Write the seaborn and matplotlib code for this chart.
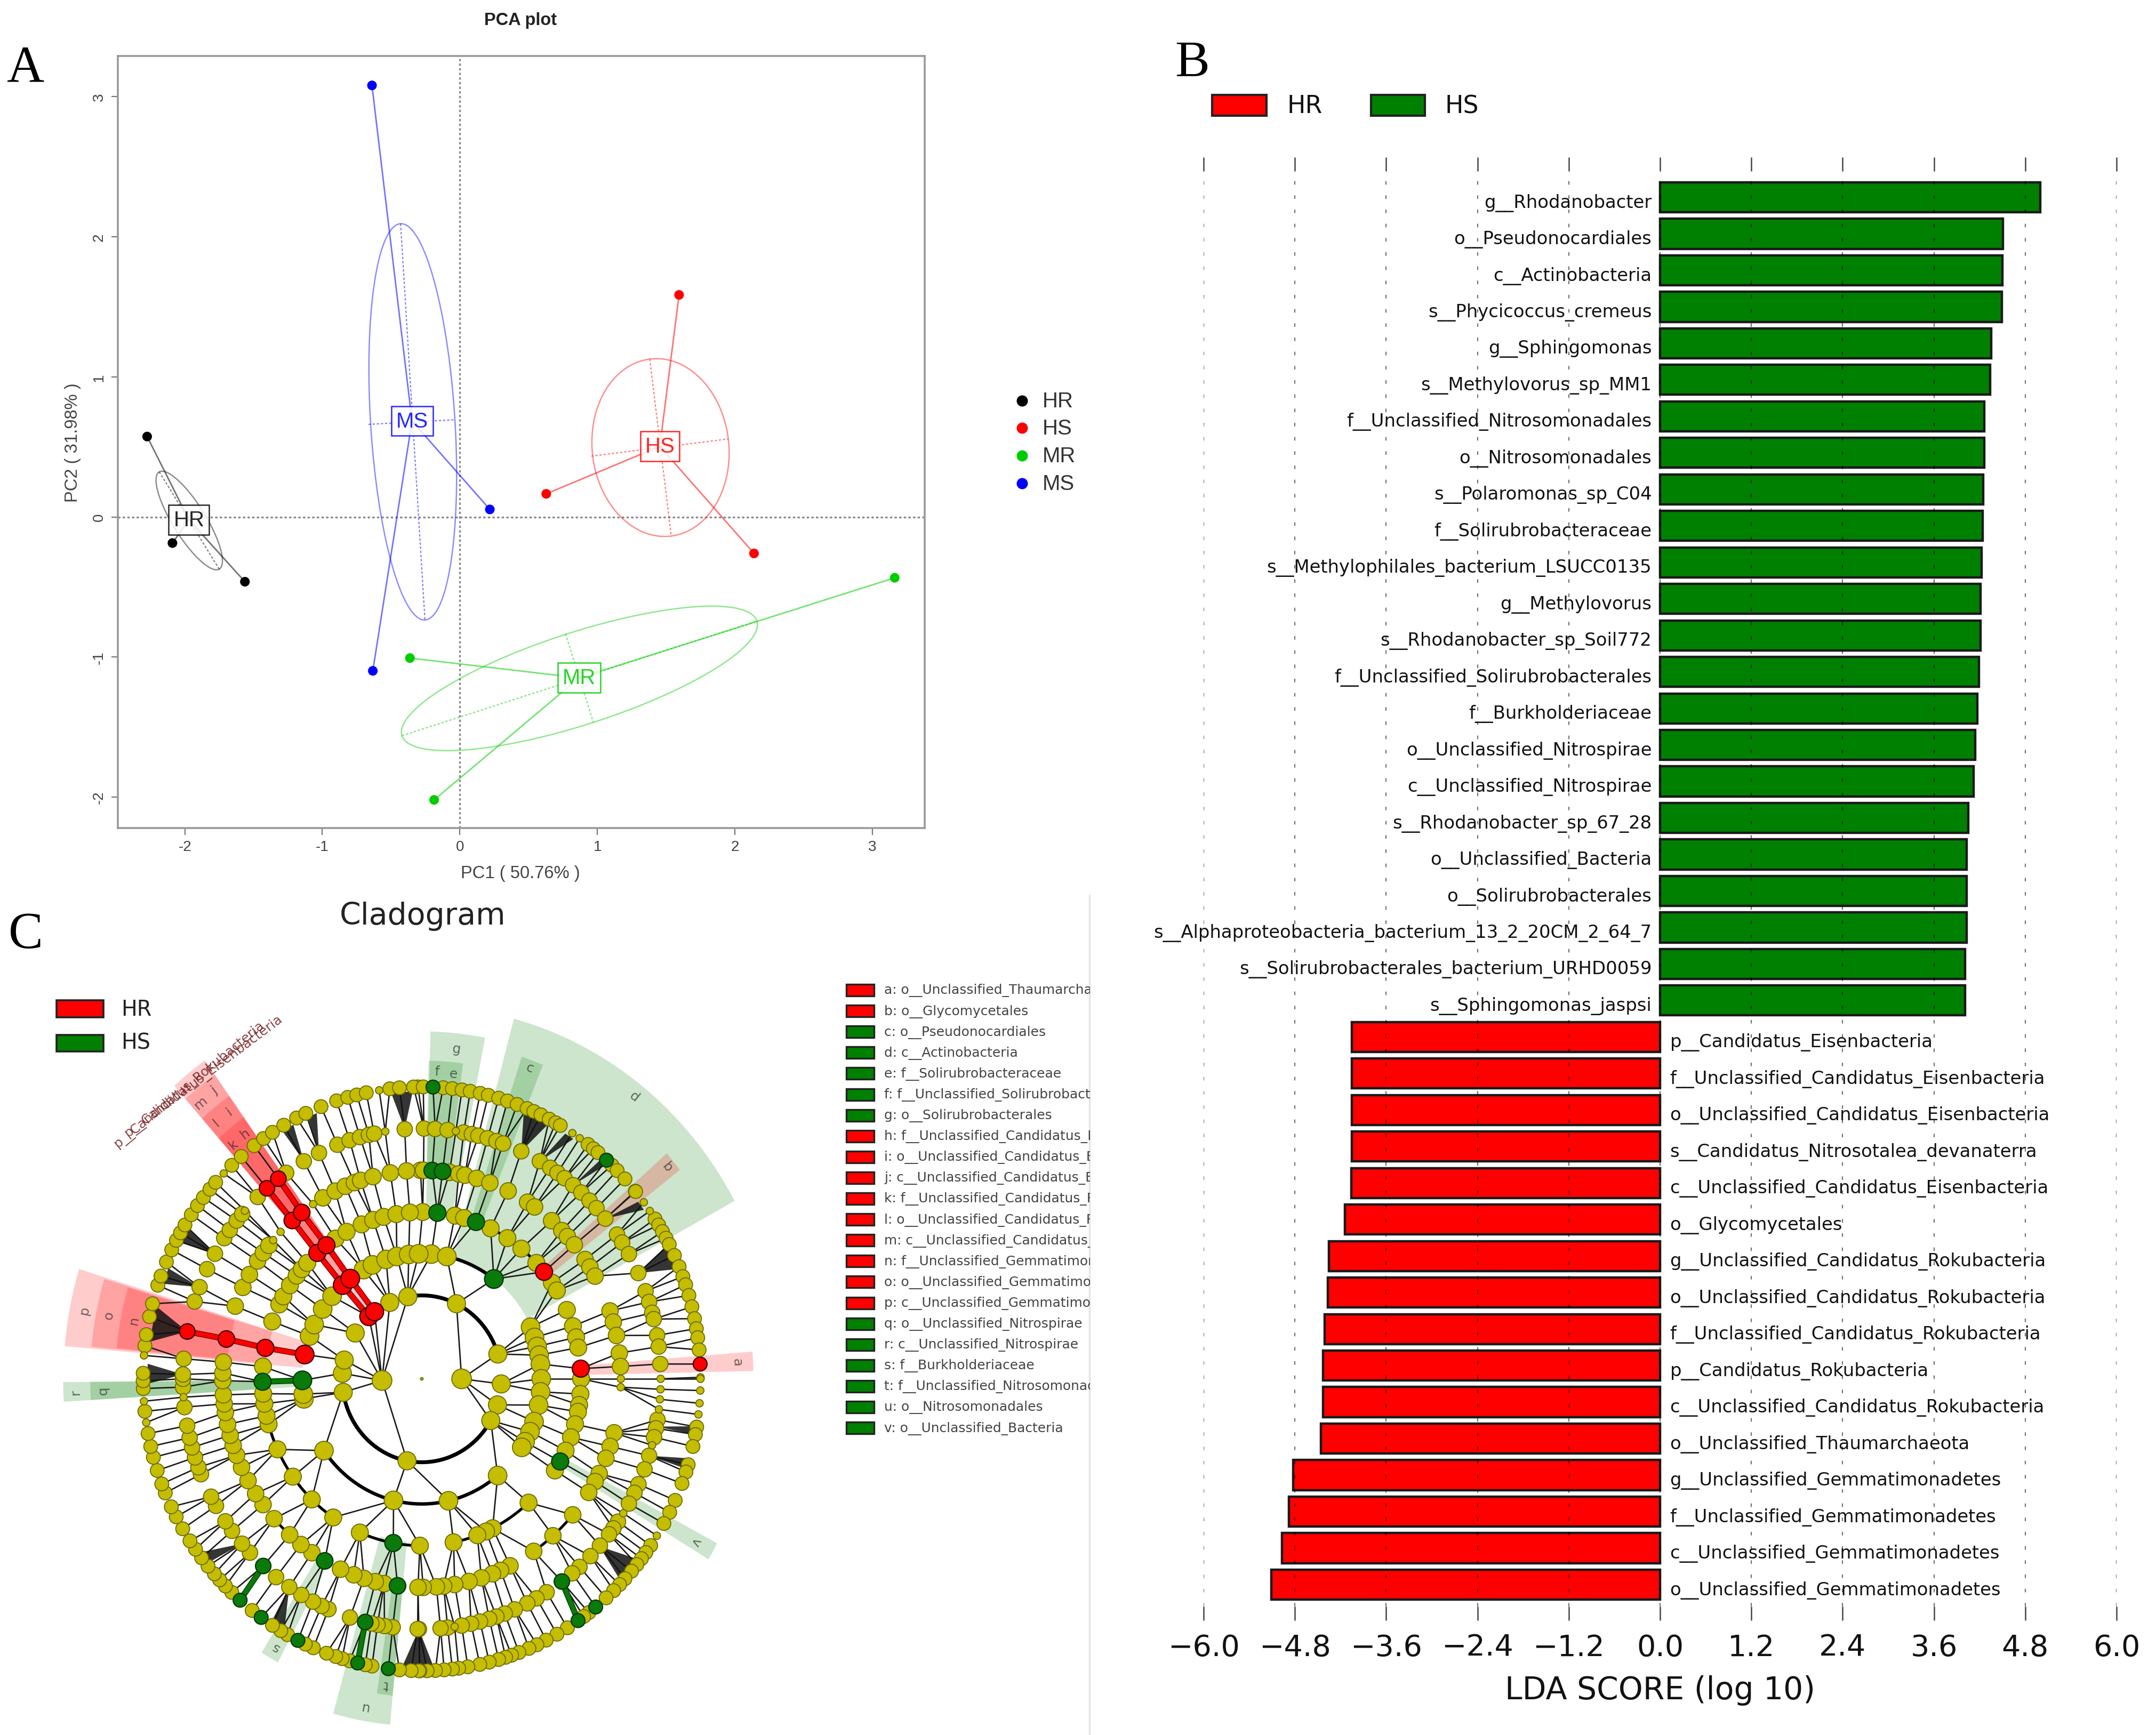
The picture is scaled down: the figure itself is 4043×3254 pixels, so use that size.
import numpy as np
import pandas as pd
import matplotlib
matplotlib.use("Agg")
import matplotlib.pyplot as plt
from matplotlib.collections import LineCollection
from matplotlib.patches import Rectangle
import seaborn as sns

W, H = 4043, 3255

# ---- panel A values
PCA_GROUPS = ["HR", "HS", "MR", "MS"]
PCA_COLORS = ["#000000", "#ff0000", "#00cd00", "#0000ff"]
PCA_X = {"HR": [-2.274, -2.09, -1.563], "HS": [1.594, 0.628, 2.139],
         "MR": [3.162, -0.363, -0.187], "MS": [-0.639, 0.218, -0.633]}
PCA_Y = {"HR": [0.574, -0.186, -0.462], "HS": [1.585, 0.165, -0.26],
         "MR": [-0.434, -1.007, -2.019], "MS": [3.08, 0.054, -1.098]}
PCA_CENTER = {"HR": (-1.97, -0.02), "HS": (1.454, 0.504), "MR": (0.867, -1.148), "MS": (-0.348, 0.685)}
# ellipse axis end points: major start, major end, minor start, minor end
PCA_ELLIPSE = {
    "HR": [(-2.186, 0.322), (-1.75, -0.372), (-2.07, -0.083), (-1.864, 0.033)],
    "HS": [(1.381, 1.127), (1.537, -0.136), (0.955, 0.434), (1.952, 0.557)],
    "MR": [(-0.421, -1.561), (2.16, -0.743), (0.768, -0.834), (0.971, -1.466)],
    "MS": [(-0.431, 2.093), (-0.254, -0.735), (-0.665, 0.661), (-0.036, 0.694)],
}

# ---- panel B values
HS_TAXA = ["g__Rhodanobacter", "o__Pseudonocardiales", "c__Actinobacteria", "s__Phycicoccus_cremeus",
           "g__Sphingomonas", "s__Methylovorus_sp_MM1", "f__Unclassified_Nitrosomonadales",
           "o__Nitrosomonadales", "s__Polaromonas_sp_C04", "f__Solirubrobacteraceae",
           "s__Methylophilales_bacterium_LSUCC0135", "g__Methylovorus", "s__Rhodanobacter_sp_Soil772",
           "f__Unclassified_Solirubrobacterales", "f__Burkholderiaceae", "o__Unclassified_Nitrospirae",
           "c__Unclassified_Nitrospirae", "s__Rhodanobacter_sp_67_28", "o__Unclassified_Bacteria",
           "o__Solirubrobacterales", "s__Alphaproteobacteria_bacterium_13_2_20CM_2_64_7",
           "s__Solirubrobacterales_bacterium_URHD0059", "s__Sphingomonas_jaspsi"]
HS_SCORES = [5.0, 4.51, 4.5, 4.49, 4.35, 4.34, 4.26, 4.26, 4.25, 4.24, 4.23, 4.21, 4.21, 4.19, 4.17,
             4.14, 4.12, 4.05, 4.03, 4.03, 4.03, 4.01, 4.01]
HR_TAXA = ["p__Candidatus_Eisenbacteria", "f__Unclassified_Candidatus_Eisenbacteria",
           "o__Unclassified_Candidatus_Eisenbacteria", "s__Candidatus_Nitrosotalea_devanaterra",
           "c__Unclassified_Candidatus_Eisenbacteria", "o__Glycomycetales",
           "g__Unclassified_Candidatus_Rokubacteria", "o__Unclassified_Candidatus_Rokubacteria",
           "f__Unclassified_Candidatus_Rokubacteria", "p__Candidatus_Rokubacteria",
           "c__Unclassified_Candidatus_Rokubacteria", "o__Unclassified_Thaumarchaeota",
           "g__Unclassified_Gemmatimonadetes", "f__Unclassified_Gemmatimonadetes",
           "c__Unclassified_Gemmatimonadetes", "o__Unclassified_Gemmatimonadetes"]
HR_SCORES = [-4.05, -4.05, -4.05, -4.05, -4.06, -4.14, -4.35, -4.37, -4.41, -4.43, -4.43, -4.46,
             -4.82, -4.88, -4.97, -5.11]
LDA_TICKS = [-6.0, -4.8, -3.6, -2.4, -1.2, 0.0, 1.2, 2.4, 3.6, 4.8, 6.0]

# ---- panel C values: node angles (degrees) read ring by ring
RING1 = [182.3, 0]
RING2 = [64.2, 17.3, 356.5, 341.8, 330, 259.3, 189.3, 176.2, 167, 146.7, 131.7, 126.4, 113.7, 100.1]
RING3 = [85.4, 77.9, 52.9, 24.4, 19.3, 15, 10.9, 6.8, 0, 354, 347.9, 340, 335, 329.8, 326.8, 309.4, 282.9,
         256.3, 215, 189.2, 187, 180.7, 168.8, 160, 154.3, 146.1, 138.7, 131.5, 126.8, 119.2, 114.4,
         107.4, 102.1, 96.3, 91.5]
RING4 = [89.7, 84.4, 78, 74.6, 70.1, 64.4, 57.5, 51.3, 44, 39.9, 35.2, 32, 24.4, 18.4, 14.4, 10.8, 3.5, 0,
         354.8, 351, 348.6, 344.2, 339.5, 334.5, 330.3, 326.7, 312.1, 296.4, 293.8, 290.4, 281.5, 269.3,
         259.7, 247.1, 236.2, 226.3, 215.9, 205, 195.8, 192.8, 188.6, 185.1, 181, 175.8, 169.3, 159.9,
         153.5, 150.4, 145.9, 141.8, 138.9, 136, 131, 126.8, 122.8, 118.2, 112.2, 107.8, 103.9, 99.2, 94.3]
RING5 = [90.4, 87, 84, 82, 79.3, 77.5, 74, 70, 64.3, 57.9, 55.5, 49.3, 45.3, 43, 40, 34.9, 32.4, 29.5,
         19, 15.8, 12, 7.1, 3.4, 345, 341.1, 337.6, 333, 330.5, 327, 319.3, 311.2, 304.2, 296.3, 293.3,
         290.8, 287.4, 283.7, 279.5, 276.3, 274.2, 270.4, 268.9, 263, 259.1, 256.5, 253.1, 250, 245.9,
         240.8, 236.5, 232.6, 228.4, 222.1, 217.1, 213.4, 209.2, 205.1, 201.5, 198.6, 195.7, 192.6,
         189.3, 186.9, 184.4, 180.5, 178.4, 175.4, 169, 159.6, 154, 150, 145.6, 142.8, 140.2, 130.6,
         127.1, 119.8, 115.8, 112.6, 109.8, 107.9, 104.2, 99.1, 94.4, 89.5]
RING5_SMALL = [357.7, 0, 138.3, 135.2, 123.1]
RING6 = [89.5, 86.8, 83.8, 79.9, 77.9, 76.3, 74, 71.8, 70.1, 65.4, 60.4, 57.5, 55.4, 53.3, 50.7, 48.1, 45.4,
         43, 39.8, 35.2, 33, 29.9, 25, 20.5, 17.9, 15.3, 13.8, 10, 7.4, 3.4, 350.6, 348.6, 346.5, 342.1,
         338.8, 335.1, 332.9, 330.1, 325.2, 323.3, 321.6, 318.2, 314.9, 311.3, 309, 305.9, 301.5, 298.7,
         296.2, 292.9, 290.3, 288.2, 286.4, 284.1, 281.9, 279.6, 276.2, 274.5, 269.3, 269, 263, 261, 259.3,
         257.8, 256.3, 252.5, 247, 245.2, 242.9, 239.7, 236.3, 232.4, 228.4, 224, 221.2, 217.4, 214.7,
         210.5, 208.1, 202.4, 200.7, 198.3, 195.9, 193.6, 190.8, 186.5, 181.9, 180, 179, 175.4, 169.1,
         162, 158.5, 154, 150, 145.8, 143.5, 140.8, 138.8, 133.4, 130.4, 126.9, 124.6, 119.6, 115.5,
         110.7, 107.6, 105, 102.8, 101.5, 94.1]
RING6_SMALL = [81.8, 0, 357.6, 355.3, 353, 344.6, 327.5, 277.9, 184.2, 137.8, 98.8]
RING7 = [90.8, 87.7, 85.6, 83.7, 81.7, 80, 77.9, 76.2, 74, 72.1, 70, 67.8, 66.3, 64.7, 62.8, 61.3, 60.2, 53.4,
         52, 50.8, 48.5, 47, 45.5, 43.2, 40, 39.9, 33.2, 31.8, 30.3, 28.8, 27.4, 25, 22.6, 20.5, 18.8, 16.6,
         14.3, 11.9, 9.9, 8.1, 5.7, 2.9, 350.5, 349, 346.6, 342.9, 341.4, 339, 335.4, 332.8, 330.3,
         325.2, 323.5, 322, 320.5, 318.8, 316.8, 315.2, 313.5, 311.4, 308.6, 306.8, 305.5, 304.1, 301.5,
         299, 296.5, 294.4, 292.6, 290.4, 288.8, 287.5, 286, 284, 282, 279.5, 277.6, 276.3, 274.6, 272.8,
         271.1, 269.6, 269.4, 267.8, 265.4, 263.1, 259.7, 258.3, 256.7, 255, 253.4, 252, 250, 247.1, 245.3,
         243.6, 241.2, 239.6, 237.6, 234.8, 232.5, 229.3, 227, 225.2, 223.5, 221.9, 219.9, 217.8, 215.7,
         213.7, 210.9, 208.2, 206, 203, 201.1, 198.3, 195.6, 193.4, 190.8, 186.4, 181.9, 180.4, 178.9,
         173.5, 171.3, 167.7, 165.1, 161.3, 159.4, 156.4, 153.8, 151.7, 150, 148.2, 145.8, 143.6, 141.6,
         139.5, 137.7, 133, 130.4, 127, 124.6, 122.4, 119.7, 116.7, 114.6, 111.2, 107.8, 105.4, 103.5,
         101.5, 96.6, 94.6, 91.7, 89.7]
RING7_SMALL = [57.3, 55.5, 37.2, 35.1, 0.3, 0, 357.7, 355.2, 353, 327.5, 188.6, 184.4, 175.4, 135.3, 98.8]
RINGS = {1: RING1, 2: RING2, 3: RING3, 4: RING4, 5: RING5, 6: RING6, 7: RING7}
SMALL = {5: RING5_SMALL, 6: RING6_SMALL, 7: RING7_SMALL}
RING_PX = {0: 5, 1: 37, 2: 34, 3: 35, 4: 32, 5: 31, 6: 29, 7: 26}
SMALL_PX = 14

RED_NODES = {2: [131.7, 126.4], 3: [131.5, 126.8, 168.8], 4: [131, 126.8, 169.3, 39.9, 3.5],
             5: [130.6, 127.1, 169], 6: [130.4, 126.9, 169.1], 7: [2.9]}
GREEN_NODES = {3: [52.9, 180.7], 4: [181, 70.1, 84.4, 330.3, 259.7], 5: [87, 84, 240.8, 263],
               6: [256.3, 228.4, 305.9], 7: [87.7, 48.5, 308.6, 304.1, 263.1, 256.7, 243.6, 234.8, 229.3]}
# which rings get a thick green branch: inner ring of the branch
GREEN_THICK_FROM = [3, 6]

# thick arcs: ring, start angle, end angle
THICK_ARCS = [(2, 17.3, 100.1), (2, 190, 330), (3, 215, 309.4), (3, 52.9, 85.4), (4, 195.8, 236.2),
              (4, 247.1, 259.7), (4, 293.8, 312.1), (4, 44, 64.4), (5, 222.1, 228.4), (5, 304.2, 319.3),
              (4, 281.5, 290.4), (4, 259.7, 269)]
# dense leaf fans: ring 6 apex angle, base start, base end
FANS = [(65.4, 62.5, 68.2), (60.4, 56.5, 58.5), (50.7, 48, 49.5), (39.8, 36, 38), (25, 22.4, 27.4),
        (342.1, 342, 344), (349, 349, 350.5), (318, 316, 321.3), (269.3, 266, 272.4), (221.2, 217, 219.5),
        (236.3, 237, 240), (94.1, 91.9, 96.4), (119.6, 117.9, 120.5), (115.5, 112.5, 114.5),
        (150, 148.5, 151.7), (158.5, 157.4, 160.7), (169.1, 165.4, 172.6), (179, 177, 181)]
# highlighted clades: letter, colour, inner radius, outer radius, start, end, letter radius
CLADE_COLOR = {"r": "#ff0000", "g": "#008000"}
CLADES = [("d", "g", 0.43, 1.277, 28.5, 75, 1.231), ("c", "g", 0.55, 1.16, 68, 72, 1.134),
          ("g", "g", 0.55, 1.19, 79, 88.5, 1.138), ("f", "g", 0.70, 1.09, 85.5, 88.7, 1.054),
          ("e", "g", 0.70, 1.09, 82.2, 85.5, 1.05), ("b", "r", 0.55, 1.17, 37.7, 41.3, 1.14),
          ("a", "r", 0.55, 1.19, 1.3, 4.5, 1.133), ("p", "r", 0.43, 1.286, 163, 175, 1.233),
          ("o", "r", 0.56, 1.19, 163.3, 174.7, 1.143), ("n", "r", 0.70, 1.10, 163.5, 174.5, 1.052),
          ("r", "g", 0.43, 1.287, 180.5, 183.5, 1.243), ("q", "g", 0.56, 1.19, 180.5, 183.5, 1.145),
          ("s", "g", 0.70, 1.10, 238.5, 242, 1.058), ("t", "g", 0.70, 1.09, 261.5, 264.5, 1.055),
          ("u", "g", 0.56, 1.19, 254.5, 264.5, 1.141), ("v", "g", 0.56, 1.2, 329, 332, 1.13),
          ("j", "r", 0.42, 1.28, 125.5, 128.5, 1.238), ("m", "r", 0.42, 1.28, 128.5, 131.5, 1.235),
          ("i", "r", 0.56, 1.19, 125.5, 128.5, 1.147), ("l", "r", 0.56, 1.19, 128.5, 131.5, 1.146),
          ("h", "r", 0.70, 1.10, 125.5, 128.5, 1.053), ("k", "r", 0.70, 1.10, 128.5, 131.5, 1.05),
          ("", "r", 0.28, 1.34, 125.5, 128.5, 1.3), ("", "r", 0.28, 1.34, 128.5, 131.5, 1.3)]
OUTER_NAMES = [("p__Candidatus_Eisenbacteria", 127.0, 1.30), ("p__Candidatus_Rokubacteria", 129.6, 1.31)]

KEY_LABELS = ["a: o__Unclassified_Thaumarchaeota", "b: o__Glycomycetales", "c: o__Pseudonocardiales",
              "d: c__Actinobacteria", "e: f__Solirubrobacteraceae", "f: f__Unclassified_Solirubrobacterales",
              "g: o__Solirubrobacterales", "h: f__Unclassified_Candidatus_Eisenbacteria",
              "i: o__Unclassified_Candidatus_Eisenbacteria", "j: c__Unclassified_Candidatus_Eisenbacteria",
              "k: f__Unclassified_Candidatus_Rokubacteria", "l: o__Unclassified_Candidatus_Rokubacteria",
              "m: c__Unclassified_Candidatus_Rokubacteria", "n: f__Unclassified_Gemmatimonadetes",
              "o: o__Unclassified_Gemmatimonadetes", "p: c__Unclassified_Gemmatimonadetes",
              "q: o__Unclassified_Nitrospirae", "r: c__Unclassified_Nitrospirae", "s: f__Burkholderiaceae",
              "t: f__Unclassified_Nitrosomonadales", "u: o__Nitrosomonadales", "v: o__Unclassified_Bacteria"]
KEY_GROUPS = list("rrggggg" + "rrrrrrrrr" + "gggggg")

sns.set_theme(style="white")
plt.rcParams["font.family"] = ["DejaVu Sans"]
fig = plt.figure(figsize=(W / 100, H / 100), dpi=100, facecolor="white")


def add_axes(left, top, right, bottom):
    return fig.add_axes([left / W, 1 - bottom / H, (right - left) / W, (bottom - top) / H])


def ftext(x, y, s, **kw):
    kw.setdefault("ha", "center")
    kw.setdefault("va", "center")
    return fig.text(x / W, 1 - y / H, s, **kw)


def pts(px):
    return (px * 0.72) ** 2


# ---- panel A
ax = add_axes(221, 106, 1734, 1554)
pca_df = pd.DataFrame({"group": [g for g in PCA_GROUPS for _ in PCA_X[g]],
                       "pc1": [v for g in PCA_GROUPS for v in PCA_X[g]],
                       "pc2": [v for g in PCA_GROUPS for v in PCA_Y[g]]})
ax.axhline(0, color="#8a8a8a", lw=2.4, ls=(0, (1.3, 1.3)), zorder=1)
ax.axvline(0, color="#8a8a8a", lw=2.4, ls=(0, (1.3, 1.3)), zorder=1)
t = np.linspace(0, 2 * np.pi, 200)
for g, col in zip(PCA_GROUPS, PCA_COLORS):
    cx, cy = PCA_CENTER[g]
    for px, py in zip(PCA_X[g], PCA_Y[g]):
        ax.plot([cx, px], [cy, py], color=col, lw=2, alpha=0.55, zorder=2)
    a0, a1, b0, b1 = np.array(PCA_ELLIPSE[g])
    c = (a0 + a1) / 2
    ex = c[0] + np.cos(t) * (a1 - c)[0] + np.sin(t) * (b1 - c)[0]
    ey = c[1] + np.cos(t) * (a1 - c)[1] + np.sin(t) * (b1 - c)[1]
    ax.plot(ex, ey, color=col, lw=1.8, alpha=0.45, zorder=2)
    for p, q in ((a0, a1), (b0, b1)):
        ax.plot([p[0], q[0]], [p[1], q[1]], color=col, lw=1.6, alpha=0.5, ls=(0, (2, 1.5)), zorder=2)
    ax.text(cx, cy, g, color=col, alpha=0.85, fontsize=29, family="Liberation Sans", ha="center", va="center", zorder=5,
            bbox=dict(boxstyle="square,pad=0.22", fc="white", ec=col, lw=1.8, alpha=0.85))
sns.scatterplot(data=pca_df, x="pc1", y="pc2", hue="group", hue_order=PCA_GROUPS, palette=PCA_COLORS,
                s=170, linewidth=0, legend=False, ax=ax, zorder=4)
ax.set_xlim(-2.487, 3.38)
ax.set_ylim(-2.22, 3.29)
ax.set_xticks([-2, -1, 0, 1, 2, 3])
ax.set_xticklabels(["-2", "-1", "0", "1", "2", "3"], family="Liberation Sans", fontsize=20, color="#444444")
ax.set_yticks([-2, -1, 0, 1, 2, 3])
ax.set_yticklabels(["-2", "-1", "0", "1", "2", "3"], family="Liberation Sans", fontsize=20, color="#444444",
                   rotation=90, va="center")
ax.tick_params(axis="both", length=9, width=1.6, color="#777777", pad=7, bottom=True, left=True)
ax.set_xlabel("")
ax.set_ylabel("")
for s in ax.spines.values():
    s.set_color("#999999")
    s.set_linewidth(2.6)
ftext(976, 39, "PCA plot", fontsize=23.5, fontweight="bold", family="Liberation Sans", color="#222222")
ftext(976, 1639, "PC1 ( 50.76% )", fontsize=23.6, family="Liberation Sans", color="#444444")
ftext(137, 830, "PC2 ( 31.98% )", fontsize=23.6, family="Liberation Sans", color="#444444", rotation=90)
overlay = fig.add_axes([0, 0, 1, 1], zorder=10)
overlay.set_xlim(0, W)
overlay.set_ylim(H, 0)
overlay.axis("off")
overlay.patch.set_alpha(0)
key_y = [753, 804, 856, 908]
overlay.scatter([1917] * 4, key_y, s=pts(21), c=PCA_COLORS, linewidths=0)
for y, g in zip(key_y, PCA_GROUPS):
    overlay.text(1955, y, g, fontsize=29, family="Liberation Sans", color="#333333", va="center")

# ---- panel B
ax = add_axes(2257, 322, 3969, 3014)
lda_df = pd.DataFrame({"taxon": HS_TAXA + HR_TAXA, "score": HS_SCORES + HR_SCORES,
                       "group": ["HS"] * len(HS_TAXA) + ["HR"] * len(HR_TAXA)})
sns.barplot(data=lda_df, y="taxon", x="score", hue="group", palette={"HS": "#008000", "HR": "#ff0000"},
            saturation=1, dodge=False, width=0.82, edgecolor="#1a1a1a", linewidth=3.2, legend=False, ax=ax, zorder=2)
ax.set_xlim(-6, 6)
ax.set_ylim(38.6, -0.716)
ax.set_xticks(LDA_TICKS)
ax.set_xticklabels([f"{v:.1f}".replace("-", "\u2212") for v in LDA_TICKS], fontsize=40, color="#111111")
ax.set_yticks([])
ax.set_xlabel("")
ax.set_ylabel("")
ax.tick_params(axis="x", length=19, width=1.8, color="#444444", top=True, bottom=True, direction="out", pad=17)
ax.xaxis.grid(True, color="black", alpha=0.55, lw=1.6, ls=(0, (3, 9)))
ax.set_axisbelow(False)
for s in ax.spines.values():
    s.set_visible(False)
for i, row in lda_df.iterrows():
    if row["score"] > 0:
        ax.text(-0.11, i + 0.14, row["taxon"], ha="right", va="center", fontsize=24.4, color="#111111", zorder=4)
    else:
        ax.text(0.13, i + 0.14, row["taxon"], ha="left", va="center", fontsize=24.4, color="#111111", zorder=4)
ftext(3113, 3171, "LDA SCORE (log 10)", fontsize=42, color="#111111")
overlay.add_patch(Rectangle((2273, 179), 102, 39, fc="#ff0000", ec="#222222", lw=3))
overlay.add_patch(Rectangle((2571, 179), 101, 39, fc="#008000", ec="#222222", lw=3))
overlay.text(2413, 200, "HR", fontsize=33, va="center", color="#111111")
overlay.text(2710, 200, "HS", fontsize=33, va="center", color="#111111")

# ---- panel C
CX, CY, RX, RY = 791, 2587, 522.6, 547.6
x_lim = (-1.35, 1.35)
y_lim = (-1.2, 1.45)
ax = add_axes(CX + x_lim[0] * RX, CY - y_lim[1] * RY, CX + x_lim[1] * RX, CY - y_lim[0] * RY)
ax.set_xlim(*x_lim)
ax.set_ylim(*y_lim)
ax.axis("off")
ax.patch.set_alpha(0)


def polar(ring_r, deg):
    return ring_r * np.cos(np.radians(deg)), ring_r * np.sin(np.radians(deg))


def gap(a, b):
    return abs((a - b + 180) % 360 - 180)


for letter, c, r0, r1, a0, a1, rl in CLADES:
    th = np.linspace(a0, a1, 30)
    xs = np.r_[r0 * np.cos(np.radians(th)), r1 * np.cos(np.radians(th[::-1]))]
    ys = np.r_[r0 * np.sin(np.radians(th)), r1 * np.sin(np.radians(th[::-1]))]
    ax.fill(xs, ys, color=CLADE_COLOR[c], alpha=0.2, lw=0, zorder=1)
    if letter:
        lx, ly = polar(rl, (a0 + a1) / 2)
        ax.text(lx, ly, letter, rotation=(a0 + a1) / 2 - 90, rotation_mode="anchor", ha="center", va="center",
                fontsize=18, color="#222222", alpha=0.65, zorder=6)
for name, deg, rl in OUTER_NAMES:
    lx, ly = polar(rl, deg)
    ax.text(lx, ly, name, rotation=deg - 90, rotation_mode="anchor", ha="center", va="center", fontsize=18,
            color="#6e1414", alpha=0.8, zorder=6)

# edges, each node hangs on the nearest node of the next ring in
all_rings = {k: list(v) + SMALL.get(k, []) for k, v in RINGS.items()}
plain, coloured = [], []
for k in range(2, 8):
    for a in all_rings[k]:
        parent = min(all_rings[k - 1], key=lambda b: gap(a, b))
        seg = [polar(k / 7, a), polar((k - 1) / 7, parent)]
        if a in RED_NODES.get(k, []) and parent in RED_NODES.get(k - 1, []):
            coloured.append((seg, "#ff0000", "#7a0000"))
        elif k - 1 in GREEN_THICK_FROM and a in GREEN_NODES.get(k, []) and parent in GREEN_NODES.get(k - 1, []):
            coloured.append((seg, "#0a7a0a", "#043804"))
        else:
            plain.append(seg)
ax.add_collection(LineCollection(plain, colors="#1a1a1a", linewidths=1.9, zorder=2))
for seg, col, edge in coloured:
    ax.plot(*zip(*seg), color=edge, lw=8, zorder=3, solid_capstyle="butt")
    ax.plot(*zip(*seg), color=col, lw=6, zorder=3.1, solid_capstyle="butt")
for k, a0, a1 in THICK_ARCS:
    th = np.radians(np.linspace(a0, a1, 60))
    lw = {2: 5.2, 3: 4.6, 4: 3.8, 5: 3.6}[k]
    ax.plot(k / 7 * np.cos(th), k / 7 * np.sin(th), color="black", lw=lw, zorder=2.2, solid_capstyle="butt")
for apex, a0, a1 in FANS:
    ax_x, ax_y = polar(6 / 7, apex)
    b0 = polar(0.985, a0)
    b1 = polar(0.985, a1)
    ax.fill([ax_x, b0[0], b1[0]], [ax_y, b0[1], b1[1]], color="#111111", lw=0, alpha=0.85, zorder=2.1)

rows = [{"x": 0.0, "y": 0.0, "d": RING_PX[0], "kind": "plain"}]
for k, angles in RINGS.items():
    for a in angles + SMALL.get(k, []):
        x, y = polar(k / 7, a)
        kind = "red" if a in RED_NODES.get(k, []) else "green" if a in GREEN_NODES.get(k, []) else "plain"
        d = SMALL_PX if a in SMALL.get(k, []) else RING_PX[k]
        rows.append({"x": x, "y": y, "d": d, "kind": kind})
nodes = pd.DataFrame(rows)
size_map = {d: pts(d) for d in nodes["d"].unique()}
sns.scatterplot(data=nodes[nodes["kind"] == "plain"], x="x", y="y", size="d", sizes=size_map, color="#c4bd00",
                edgecolor="#6e6a00", linewidth=1.3, legend=False, ax=ax, zorder=4, clip_on=False)
sns.scatterplot(data=nodes[nodes["kind"] == "red"], x="x", y="y", size="d", sizes=size_map, color="#ff0000",
                edgecolor="#3a0000", linewidth=1.6, legend=False, ax=ax, zorder=5, clip_on=False)
sns.scatterplot(data=nodes[nodes["kind"] == "green"], x="x", y="y", size="d", sizes=size_map, color="#0a7a0a",
                edgecolor="#043804", linewidth=1.6, legend=False, ax=ax, zorder=5, clip_on=False)
ax.set_xlabel("")
ax.set_ylabel("")
ax.set_xlim(*x_lim)
ax.set_ylim(*y_lim)

ftext(793, 1719, "Cladogram", fontsize=41, color="#222222")
overlay.add_patch(Rectangle((106, 1877), 88, 32, fc="#ff0000", ec="#222222", lw=2.6))
overlay.add_patch(Rectangle((106, 1942), 88, 31, fc="#008000", ec="#222222", lw=2.6))
overlay.text(227, 1894, "HR", fontsize=28.5, va="center", color="#222222")
overlay.text(227, 1957, "HS", fontsize=28.5, va="center", color="#222222")

clip = Rectangle((1500, 1700), 544, 1500, transform=overlay.transData)
for i, (label, g) in enumerate(zip(KEY_LABELS, KEY_GROUPS)):
    y = 1858 + i * 39.1
    overlay.add_patch(Rectangle((1587, y - 11), 52, 22, fc=CLADE_COLOR[g], ec="#222222", lw=2.4))
    txt = overlay.text(1658, y, label, fontsize=17.9, va="center", color="#444444", clip_on=True)
    txt.set_clip_path(clip)
overlay.plot([2043, 2043], [1680, 3255], color="#e4e4e4", lw=2.5)

# panel letters
for s, x, y in (("A", 48, 129), ("B", 2236, 120), ("C", 48, 1755)):
    ftext(x, y, s, fontsize=70, family="Liberation Serif", color="black")

fig.savefig("out.png", dpi=100, facecolor="white")
